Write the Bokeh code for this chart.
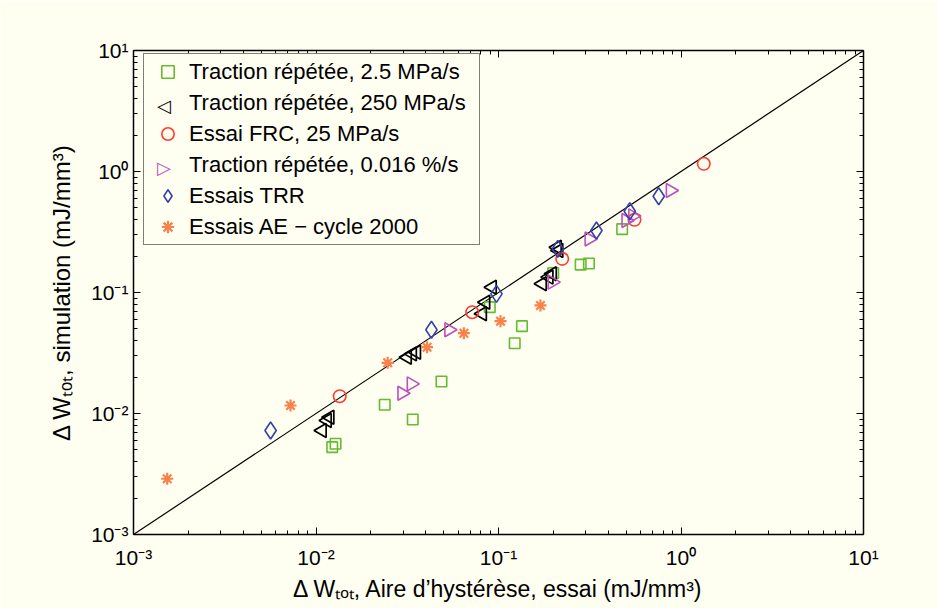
import math
from bokeh.plotting import figure
from bokeh.models import LogAxis, FixedTicker, Legend, LegendItem, CustomJSTickFormatter
from bokeh.core.properties import value
from bokeh.embed import file_html
from bokeh.resources import INLINE

# ---------------- data ----------------
trac25_x = [0.01227, 0.0128, 0.0238, 0.0339, 0.0487, 0.1227, 0.1345, 0.0896, 0.1995, 0.282, 0.313, 0.476]
trac25_y = [0.00527, 0.00562, 0.0118, 0.00891, 0.01836, 0.0381, 0.0527, 0.0757, 0.1450, 0.170, 0.1735, 0.334]

trac250_x = [0.0108, 0.01151, 0.0119, 0.0316, 0.0337, 0.0355, 0.0815, 0.0850, 0.0923, 0.1735, 0.1888, 0.197, 0.2096, 0.2138]
trac250_y = [0.00724, 0.00875, 0.0093, 0.0292, 0.0311, 0.0321, 0.0667, 0.0832, 0.1106, 0.1180, 0.134, 0.143, 0.2366, 0.2223]

frc_x = [0.01349, 0.0718, 0.2234, 0.556, 1.333]
frc_y = [0.0139, 0.0687, 0.1898, 0.399, 1.158]

trac016_x = [0.0296, 0.0333, 0.0535, 0.197, 0.314, 0.500, 0.545, 0.875]
trac016_y = [0.01472, 0.01757, 0.0492, 0.1217, 0.277, 0.394, 0.43, 0.697]

trr_x = [0.00564, 0.0429, 0.0975, 0.2113, 0.344, 0.524, 0.755]
trr_y = [0.00724, 0.0492, 0.0975, 0.2296, 0.325, 0.4698, 0.625]

ae_x = [0.00153, 0.00725, 0.0247, 0.0406, 0.0646, 0.1026, 0.1698]
ae_y = [0.00289, 0.01164, 0.02624, 0.0353, 0.0461, 0.0579, 0.0782]

diag = [1e-3, 1e1]

series_labels = [
    "Traction répétée, 2.5 MPa/s",
    "Traction répétée, 250 MPa/s",
    "Essai FRC, 25 MPa/s",
    "Traction répétée, 0.016 %/s",
    "Essais TRR",
    "Essais AE − cycle 2000",
]

major_ticks = [1e-3, 1e-2, 1e-1, 1e0, 1e1]
tick_text = ["10⁻³", "10⁻²", "10⁻¹", "10⁰", "10¹"]
minor_ticks = [m * t for t in major_ticks[:-1] for m in range(2, 10)]

x_title = "Δ Wₜₒₜ, Aire d’hystérèse, essai (mJ/mm³)"
y_title = "Δ Wₜₒₜ, simulation (mJ/mm³)"

# ---------------- style ----------------
BG = "#FEFEF1"
FONT = "Liberation Sans"
GREEN = "#66BB33"
RED = "#FF3B30"
MAGENTA = "#BF4FBF"
BLUE = "#3344A8"
ORANGE = "#F7824A"

FRAME_W, FRAME_H = 730, 484

p = figure(frame_width=FRAME_W, frame_height=FRAME_H, x_axis_type="log", y_axis_type="log",
           x_range=(1e-3, 1e1), y_range=(1e-3, 1e1),
           output_backend="svg", toolbar_location=None,
           min_border_left=133, min_border_right=74, min_border_top=50, min_border_bottom=74)
p.background_fill_color = BG
p.border_fill_color = BG
p.outline_line_color = None
p.grid.visible = False

p.add_layout(LogAxis(), "above")
p.add_layout(LogAxis(), "right")
for ax in p.axis:
    ax.ticker = FixedTicker(ticks=major_ticks, minor_ticks=minor_ticks)
    ax.formatter = CustomJSTickFormatter(code="return ''")
    ax.major_label_text_font_size = "0px"
    ax.major_label_standoff = 0
    ax.major_tick_in = 7
    ax.major_tick_out = 0
    ax.minor_tick_in = 4
    ax.minor_tick_out = 0
    ax.axis_line_color = "black"
    ax.axis_line_width = 1.5
    ax.major_tick_line_color = "black"
    ax.minor_tick_line_color = "black"
    ax.major_tick_line_width = 1
    ax.minor_tick_line_width = 1
    ax.axis_label = None

label_formatter = CustomJSTickFormatter(
    args=dict(tvals=major_ticks, tlabels=tick_text),
    code="""
for (let i = 0; i < tvals.length; i++) {
  if (Math.abs(Math.log10(tvals[i]) - Math.log10(tick)) < 1e-6) { return tlabels[i]; }
}
return '';
""")

for ax, title, lab_standoff, title_standoff, title_fs in ((p.below[0], x_title, 11, 4, "23px"),
                                                          (p.left[0], y_title, 5, 13, "24px")):
    ax.formatter = label_formatter
    ax.major_label_text_font = FONT
    ax.major_label_text_font_size = "21px"
    ax.major_label_text_color = "black"
    ax.major_label_standoff = lab_standoff
    ax.axis_label = title
    ax.axis_label_text_font = FONT
    ax.axis_label_text_font_size = title_fs
    ax.axis_label_text_font_style = "normal"
    ax.axis_label_text_color = "black"
    ax.axis_label_standoff = title_standoff

p.line(diag, diag, line_color="black", line_width=1.2)

r_g = p.scatter(trac25_x, trac25_y, marker="square", size=10.5, fill_color=None,
                line_color=GREEN, line_width=1.6)
r_k = p.scatter(trac250_x, trac250_y, marker="triangle", angle=math.pi / 2, size=14,
                fill_color=None, line_color="black", line_width=1.7)
r_r = p.scatter(frc_x, frc_y, marker="circle", size=12.5, fill_color=None,
                line_color=RED, line_width=1.6)
r_m = p.scatter(trac016_x, trac016_y, marker="triangle", angle=-math.pi / 2, size=14,
                fill_color=None, line_color=MAGENTA, line_width=1.6)
r_b = p.scatter(trr_x, trr_y, marker="diamond", size=17, fill_color=None,
                line_color=BLUE, line_width=1.6)
r_o = p.scatter(ae_x, ae_y, marker="asterisk", size=12, line_color=ORANGE, line_width=2.2)

# legend-only stand-in for the sideways triangles (legend glyphs are never rotated)
stub = p.scatter([], [], marker="square", size=1, line_alpha=0, fill_alpha=0)

LEG_LOC = (10, 289)


def make_legend(labels, rends, **kw):
    lg = Legend(items=[LegendItem(label=value(l), renderers=[r]) for l, r in zip(labels, rends)],
                location=LEG_LOC)
    lg.label_height = 31
    lg.glyph_height = 31
    lg.spacing = 0
    lg.margin = 0
    lg.padding = 2
    lg.label_standoff = 0
    for k, v in kw.items():
        setattr(lg, k, v)
    return lg


legend = make_legend(series_labels, [r_g, stub, r_r, stub, r_b, r_o],
                     label_text_font=FONT, label_text_font_size="22px", label_text_color="black",
                     glyph_width=43, label_width=288,
                     border_line_color="black", border_line_width=1,
                     background_fill_color=BG, background_fill_alpha=1)
p.add_layout(legend)

# overlay legends drawing the sideways triangle symbols in the glyph column
blank = " "
for row, sym, col in ((1, "◁", "black"), (3, "▷", MAGENTA)):
    labs = [sym if i == row else blank for i in range(len(series_labels))]
    over = make_legend(labs, [stub] * len(labs),
                       label_text_font="DejaVu Sans", label_text_font_size="18px",
                       label_text_color=col, glyph_width=14, label_width=0,
                       border_line_color=None, background_fill_alpha=0)
    p.add_layout(over)

open("out.html", "w").write(file_html(p, INLINE))
